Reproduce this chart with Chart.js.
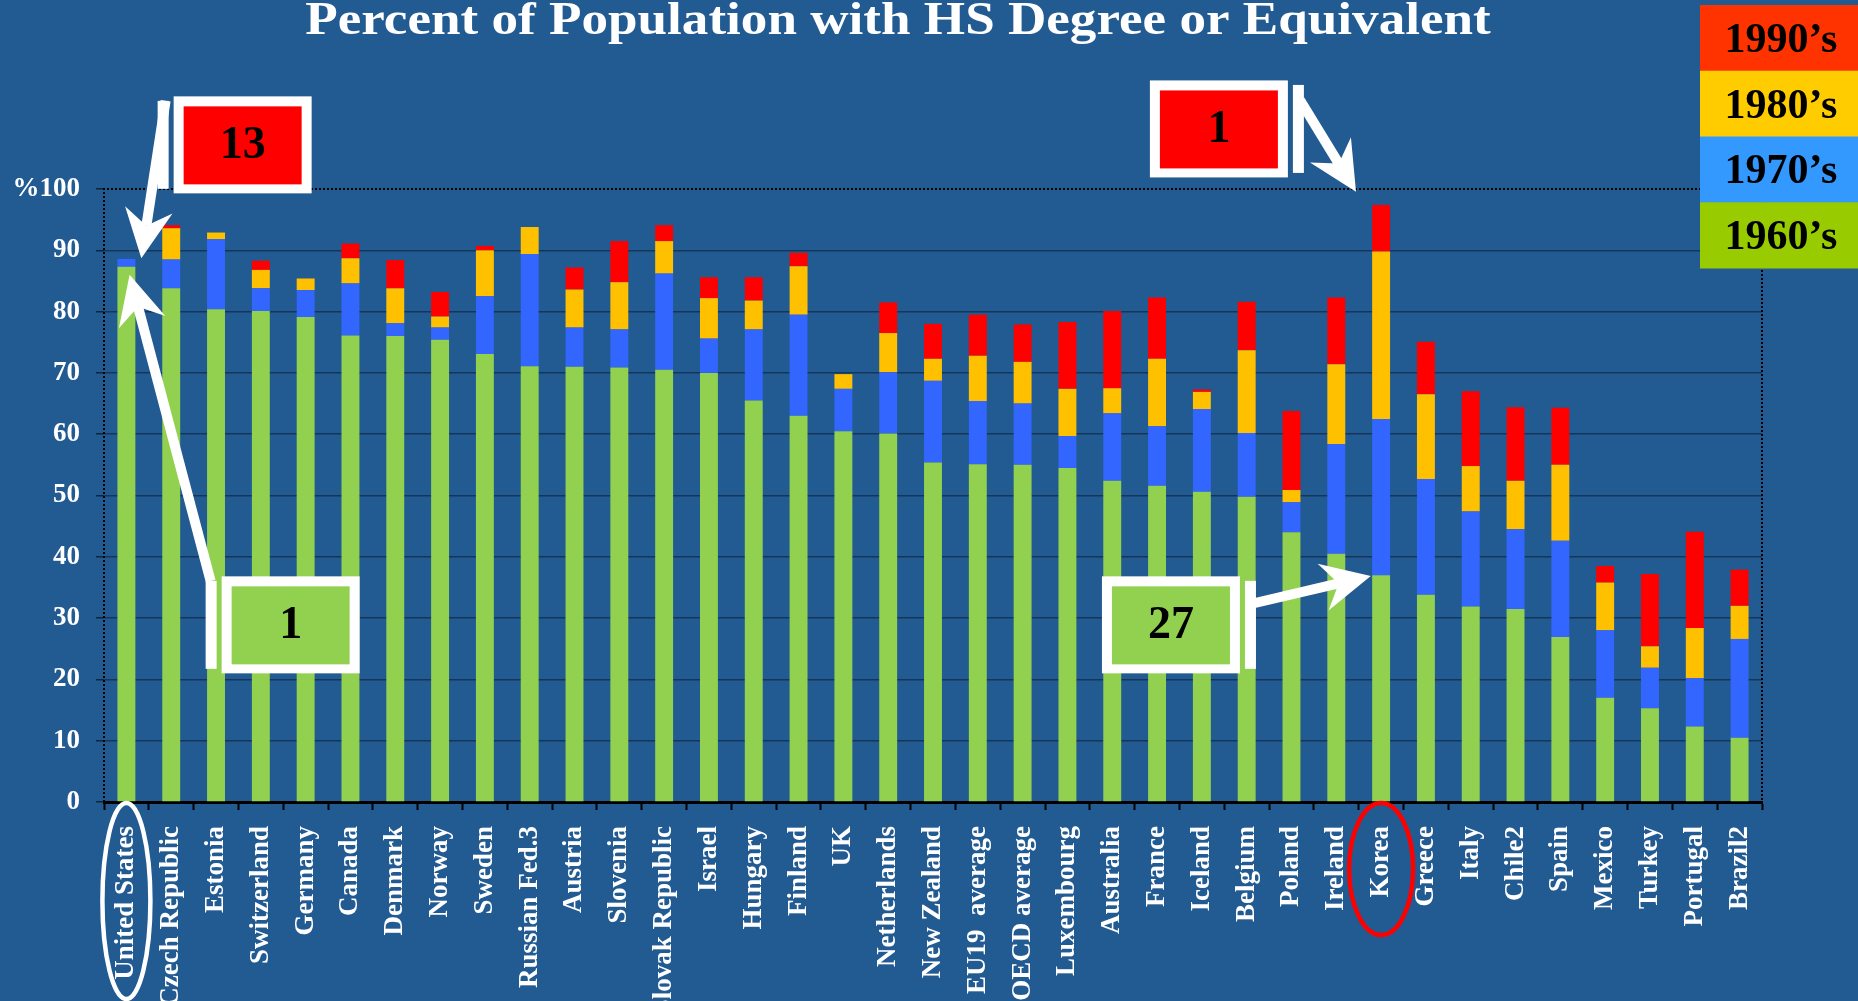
<!DOCTYPE html>
<html>
<head>
<meta charset="utf-8">
<script src="https://cdn.jsdelivr.net/npm/chart.js@4/dist/chart.umd.min.js"></script>
<style>
  html, body { margin: 0; padding: 0; background: #225a92; }
  #wrap { width: 1858px; height: 1001px; position: relative; }
</style>
</head>
<body>
<div id="wrap"><canvas id="hs_chart"></canvas></div>
<script>
const TITLE = 'Percent of Population with HS Degree or Equivalent';

const COUNTRIES = [
  'United States', 'Czech Republic', 'Estonia', 'Switzerland', 'Germany', 'Canada',
  'Denmark', 'Norway', 'Sweden', 'Russian Fed.3', 'Austria', 'Slovenia',
  'Slovak Republic', 'Israel', 'Hungary', 'Finland', 'UK', 'Netherlands',
  'New Zealand', 'EU19  average', 'OECD average', 'Luxembourg', 'Australia', 'France',
  'Iceland', 'Belgium', 'Poland', 'Ireland', 'Korea', 'Greece',
  'Italy', 'Chile2', 'Spain', 'Mexico', 'Turkey', 'Portugal', 'Brazil2',
];

// one stacked segment per decade (the bar top is the sum)
const SIXTIES = [
  87.3, 83.8, 80.4, 80.1, 79.1, 76.1, 76.0, 75.4, 73.1, 71.1, 71.0, 70.9,
  70.5, 70.0, 65.5, 63.0, 60.5, 60.1, 55.4, 55.1, 55.0, 54.5, 52.4, 51.6,
  50.6, 49.8, 44.0, 40.5, 37.0, 33.8, 31.9, 31.5, 26.9, 17.0, 15.3, 12.3, 10.5,
];
const SEVENTIES = [
  1.3, 4.7, 11.4, 3.7, 4.4, 8.5, 2.1, 2.0, 9.4, 18.3, 6.4, 6.2,
  15.7, 5.6, 11.6, 16.5, 6.9, 10.0, 13.3, 10.3, 10.0, 5.2, 11.0, 9.7,
  13.5, 10.4, 4.9, 17.9, 25.5, 18.9, 15.5, 13.0, 15.7, 11.0, 6.6, 7.9, 16.1,
];
const EIGHTIES = [
  0, 5.1, 1.1, 3.0, 1.9, 4.1, 5.7, 1.8, 7.5, 4.4, 6.2, 7.7,
  5.3, 6.6, 4.7, 7.9, 2.4, 6.4, 3.6, 7.4, 6.8, 7.7, 4.1, 11.0,
  2.8, 13.5, 2.0, 13.0, 27.3, 13.8, 7.4, 7.9, 12.4, 7.8, 3.5, 8.2, 5.4,
];
const NINETIES = [
  0, 0.5, 0, 1.5, 0, 2.4, 4.6, 4.0, 0.7, 0, 3.6, 6.7,
  2.6, 3.4, 3.8, 2.2, 0, 5.0, 5.7, 6.7, 6.1, 10.9, 12.6, 10.0,
  0.4, 7.9, 12.9, 10.9, 7.6, 8.6, 12.2, 12.0, 9.3, 2.7, 11.8, 15.7, 5.9,
];

const DECADES = ['1960’s', '1970’s', '1980’s', '1990’s'];
const Y_TICK_LABELS = ['0', '10', '20', '30', '40', '50', '60', '70', '80', '90', '%100'];

const BAR_COLORS = ['#92d050', '#3366ff', '#ffc000', '#ff0000'];
const KEY_COLORS = ['#99cc00', '#3399ff', '#ffcc00', '#ff3300'];
const SERIF = "'Liberation Serif', 'Times New Roman', serif";

// callouts, placed in chart coordinates (category index, percent)
const CALLOUTS = [
  { text: '13', fill: '#ff0000', at: [2.594, 107.2], side: 'left' },
  { text: '1', fill: '#92d050', at: [3.665, 28.9], side: 'left' },
  { text: '1', fill: '#ff0000', at: [24.38, 109.8], side: 'right' },
  { text: '27', fill: '#92d050', at: [23.31, 28.9], side: 'right' },
];
const ARROWS = [
  { from: [0.875, 114.4], to: [0.333, 88.7] },
  { from: [1.879, 36.05], to: [0.071, 86.0] },
  { from: [26.19, 114.5], to: [27.44, 99.56] },
  { from: [25.09, 32.3], to: [27.77, 36.87] },
];
const RINGS = [
  { index: 0, color: '#ffffff', dy: 99, rx: 24, ry: 98 },
  { index: 28, color: '#ff0000', dy: 67, rx: 32, ry: 66 },
];

const backdrop = {
  id: 'backdrop',
  beforeDraw(chart) {
    const ctx = chart.ctx;
    ctx.save();
    ctx.fillStyle = '#225a92';
    ctx.fillRect(0, 0, chart.width, chart.height);
    ctx.restore();
  }
};

const frame = {
  id: 'frame',
  beforeDatasetsDraw(chart) {
    const { ctx, chartArea: a } = chart;
    ctx.save();
    ctx.strokeStyle = '#000';
    ctx.lineWidth = 2;
    ctx.setLineDash([2, 2]);
    ctx.beginPath();
    ctx.moveTo(a.left, a.bottom);
    ctx.lineTo(a.left, a.top);
    ctx.lineTo(a.right, a.top);
    ctx.lineTo(a.right, a.bottom);
    ctx.stroke();
    ctx.restore();
  }
};

const overlay = {
  id: 'overlay',
  afterDraw(chart) {
    const { ctx, chartArea: a } = chart;
    const xs = chart.scales.x, ys = chart.scales.y;
    const px = p => [xs.getPixelForValue(p[0]), ys.getPixelForValue(p[1])];

    ctx.save();
    // title, slightly stretched like the slide
    ctx.fillStyle = '#fff';
    ctx.font = 'bold 47px ' + SERIF;
    ctx.textAlign = 'center';
    ctx.textBaseline = 'alphabetic';
    ctx.save();
    ctx.translate(898, 34);
    ctx.scale(1.13, 1);
    ctx.fillText(TITLE, 0, 0);
    ctx.restore();

    // colour key, newest decade on top
    const kx = 1700, kw = chart.width - kx, kh = 65.75;
    ctx.font = 'bold 42px ' + SERIF;
    for (let k = 0; k < 4; k++) {
      const d = 3 - k, top = 5 + k * kh;
      ctx.fillStyle = KEY_COLORS[d];
      ctx.fillRect(kx, top, kw, kh + 0.5);
      ctx.fillStyle = '#000';
      ctx.fillText(DECADES[d], kx + kw / 2 + 2, top + kh / 2 + 14);
    }

    // arrows
    ctx.fillStyle = '#fff';
    ctx.strokeStyle = '#fff';
    ARROWS.forEach(ar => {
      const [x0, y0] = px(ar.from), [x1, y1] = px(ar.to);
      const len = Math.hypot(x1 - x0, y1 - y0);
      const ux = (x1 - x0) / len, uy = (y1 - y0) / len;
      const L = 49, hw = 24, notch = 16;
      const bx = x1 - ux * L, by = y1 - uy * L;
      const nx = x1 - ux * (L - notch), ny = y1 - uy * (L - notch);
      ctx.lineWidth = 10;
      ctx.beginPath();
      ctx.moveTo(x0, y0);
      ctx.lineTo(nx, ny);
      ctx.stroke();
      ctx.beginPath();
      ctx.moveTo(x1, y1);
      ctx.lineTo(bx - uy * hw, by + ux * hw);
      ctx.lineTo(nx, ny);
      ctx.lineTo(bx + uy * hw, by - ux * hw);
      ctx.closePath();
      ctx.fill();
    });

    // boxed ranks
    const W = 138, H = 97, B = 10;
    CALLOUTS.forEach(c => {
      const [cx, cy] = px(c.at);
      ctx.fillStyle = '#fff';
      ctx.fillRect(cx - W / 2, cy - H / 2, W, H);
      const barX = c.side === 'left' ? cx - W / 2 - 16 : cx + W / 2 + 5;
      ctx.fillRect(barX, cy - 44, 11, 88);
      ctx.fillStyle = c.fill;
      ctx.fillRect(cx - W / 2 + B, cy - H / 2 + B, W - 2 * B, H - 2 * B + 1);
      ctx.fillStyle = '#000';
      ctx.font = 'bold 46px ' + SERIF;
      ctx.fillText(c.text, cx, cy + 13);
    });

    // rings round two labels
    ctx.lineWidth = 4.5;
    RINGS.forEach(r => {
      ctx.strokeStyle = r.color;
      ctx.beginPath();
      ctx.ellipse(xs.getPixelForValue(r.index), a.bottom + r.dy, r.rx, r.ry, 0, 0, Math.PI * 2);
      ctx.stroke();
    });
    ctx.restore();
  }
};

const SERIES = [SIXTIES, SEVENTIES, EIGHTIES, NINETIES];

new Chart(document.getElementById('hs_chart'), {
  type: 'bar',
  data: {
    labels: COUNTRIES,
    datasets: DECADES.map((d, i) => ({
      label: d,
      data: SERIES[i],
      backgroundColor: BAR_COLORS[i],
      borderWidth: 0,
      barPercentage: 0.4,
      categoryPercentage: 1,
    })),
  },
  options: {
    responsive: true,
    maintainAspectRatio: false,
    animation: false,
    layout: { padding: { top: 189, right: 96, left: 0, bottom: 0 } },
    plugins: {
      legend: { display: false },
      tooltip: { enabled: false },
    },
    scales: {
      x: {
        stacked: true,
        grid: { offset: true, drawOnChartArea: false, drawTicks: true, tickLength: 8, tickColor: '#000', tickWidth: 2 },
        border: { display: true, color: '#000', width: 3 },
        ticks: {
          color: '#fff',
          font: { family: SERIF, size: 27, weight: 'bold' },
          minRotation: 90,
          maxRotation: 90,
          autoSkip: false,
          padding: 16,
        },
        afterFit: s => { s.height = 199; },
      },
      y: {
        stacked: true,
        min: 0,
        max: 100,
        ticks: {
          stepSize: 10,
          color: '#fff',
          font: { family: SERIF, size: 27, weight: 'bold' },
          padding: 16,
          callback: (v, i) => Y_TICK_LABELS[i],
        },
        grid: {
          color: c => (c.tick && c.tick.value === 100 ? 'rgba(0,0,0,0)' : '#14365a'),
          lineWidth: 1.5,
          tickLength: 8,
          tickColor: '#10243d',
        },
        border: { display: false },
        afterFit: s => { s.width = 104; },
      },
    },
  },
  plugins: [backdrop, frame, overlay],
});
</script>
</body>
</html>
